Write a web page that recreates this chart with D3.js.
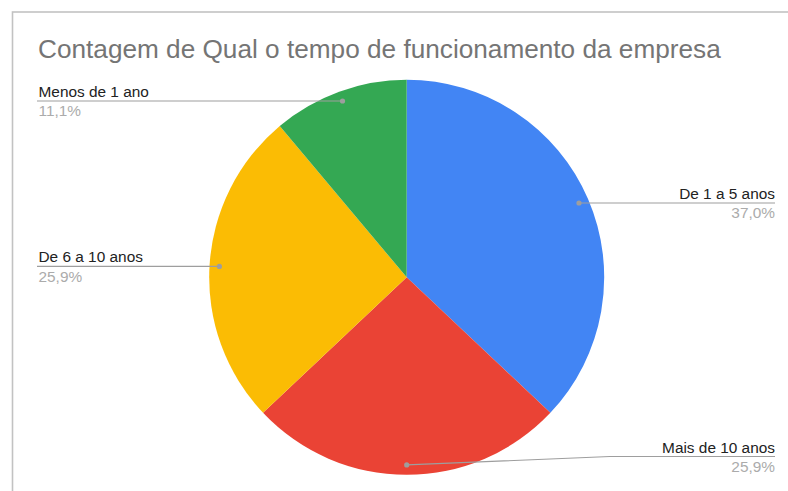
<!DOCTYPE html>
<html>
<head>
<meta charset="utf-8">
<script src="https://cdn.jsdelivr.net/npm/d3@7"></script>
<style>
  html, body { margin: 0; padding: 0; background: #fff; }
  svg { display: block; font-family: "Liberation Sans", Arial, sans-serif; }
</style>
</head>
<body>
<svg id="chart" width="788" height="491"></svg>
<script>
// dados
const categories = ["De 1 a 5 anos", "Mais de 10 anos", "De 6 a 10 anos", "Menos de 1 ano"];
const counts = [10, 7, 7, 3];
const colors = ["#4285f4", "#ea4335", "#fbbc04", "#34a853"];
const title = "Contagem de Qual o tempo de funcionamento da empresa";

const W = 788, H = 491;
const cx = 406.7, cy = 277.3, R = 197.5;
const labelLeft = 37, labelRight = 775, labelBottom = 456.5;

const svg = d3.select("#chart");

// moldura (só topo e esquerda ficam visíveis)
svg.append("rect")
  .attr("x", 12.5).attr("y", 12)
  .attr("width", W + 20).attr("height", H + 20)
  .attr("fill", "none")
  .attr("stroke", "#c2c2c2")
  .attr("stroke-width", 1.6);

svg.append("text")
  .attr("x", 38).attr("y", 58)
  .attr("fill", "#757575")
  .attr("font-size", 26.2)
  .text(title);

const total = d3.sum(counts);
const data = categories.map((c, i) => ({ name: c, value: counts[i], color: colors[i] }));

const pie = d3.pie().sort(null).value((d) => d.value);
const arc = d3.arc().innerRadius(0).outerRadius(R);
const arcs = pie(data);

const g = svg.append("g").attr("transform", `translate(${cx},${cy})`);

g.selectAll("path.slice")
  .data(arcs)
  .enter()
  .append("path")
  .attr("class", "slice")
  .attr("d", arc)
  .attr("fill", (d) => d.data.color);

const fmt = (v) => (v * 100).toFixed(1).replace(".", ",") + "%";

// rótulos com linhas guia
const labels = svg.append("g");
arcs.forEach((a) => {
  const mid = (a.startAngle + a.endAngle) / 2;
  const px = cx + Math.sin(mid) * R * 0.95;
  const py = cy - Math.cos(mid) * R * 0.95;
  const right = Math.sin(mid) > 0;
  const ly = Math.min(py, labelBottom);
  const x0 = right ? labelRight : labelLeft;
  const tx = right ? labelRight : labelLeft + 1.5;

  let pts;
  if (ly !== py) {
    const bend = right ? labelRight - 165 : labelLeft + 165;
    pts = [[px, py], [bend, ly], [x0, ly]];
  } else {
    pts = [[px, py], [x0, ly]];
  }
  labels.append("path")
    .attr("d", d3.line()(pts))
    .attr("fill", "none")
    .attr("stroke", "#9e9e9e")
    .attr("stroke-width", 1.2);
  labels.append("circle")
    .attr("cx", px).attr("cy", py).attr("r", 2.6)
    .attr("fill", "#9e9e9e");

  labels.append("text")
    .attr("x", tx).attr("y", ly - 4)
    .attr("text-anchor", right ? "end" : "start")
    .attr("font-size", 15.4)
    .attr("fill", "#222")
    .text(a.data.name);
  labels.append("text")
    .attr("x", tx).attr("y", ly + 15.5)
    .attr("text-anchor", right ? "end" : "start")
    .attr("font-size", 15.4)
    .attr("fill", "#ababab")
    .text(fmt(a.data.value / total));
});
</script>
</body>
</html>
